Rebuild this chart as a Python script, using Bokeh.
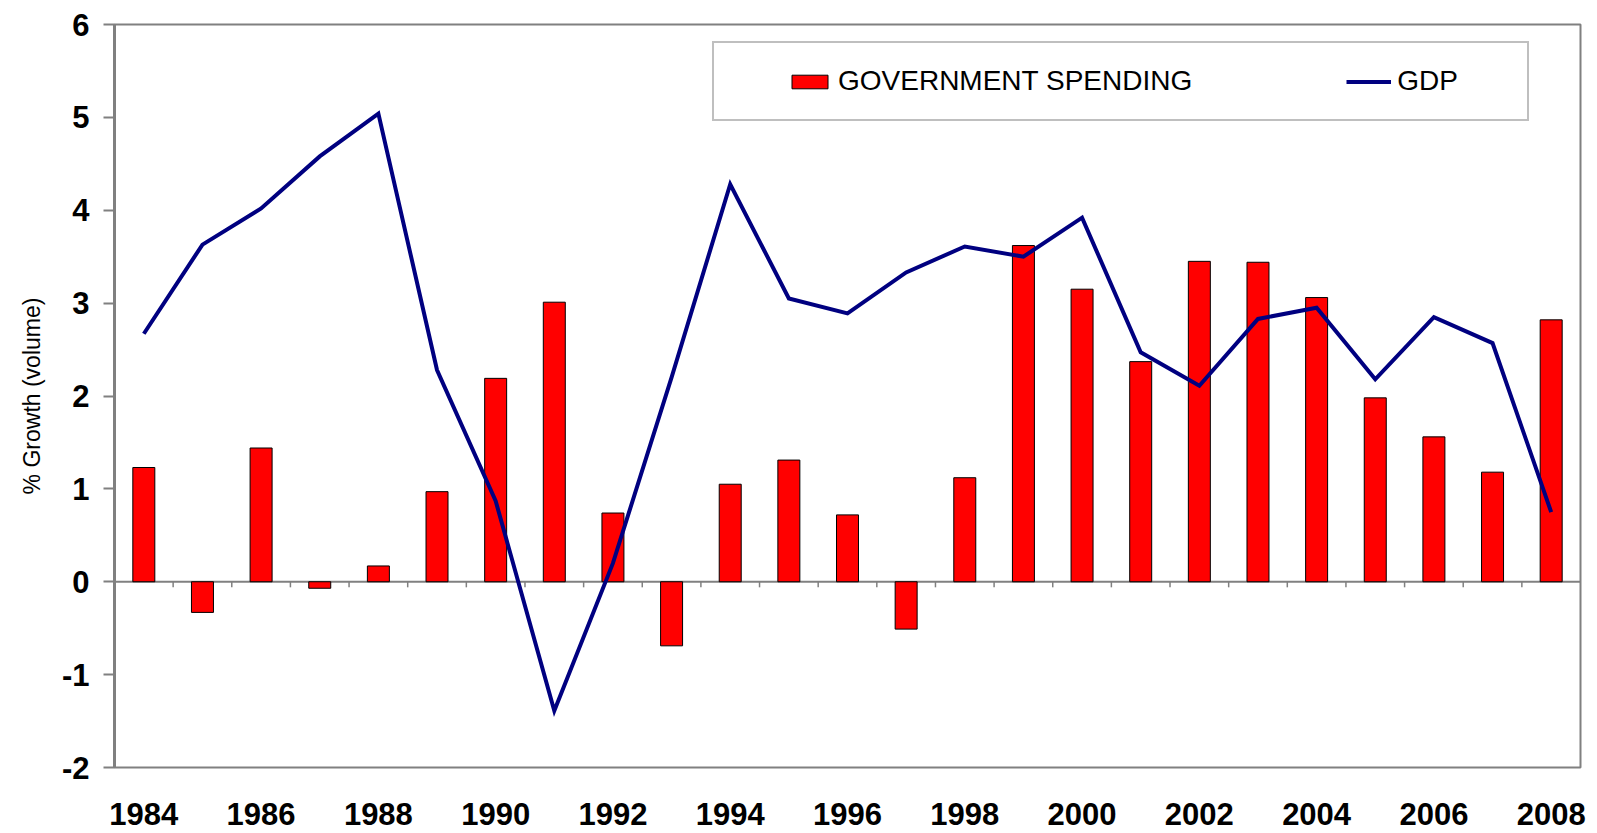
from bokeh.plotting import figure
from bokeh.models import (ColumnDataSource, FixedTicker, Legend, LegendItem,
                          Span, Range1d)
from bokeh.embed import file_html
from bokeh.resources import INLINE

# ---- data -------------------------------------------------------------
years = list(range(1984, 2009))
gov_spending = [1.23, -0.33, 1.44, -0.07, 0.17, 0.97, 2.19, 3.01, 0.74, -0.69,
                1.05, 1.31, 0.72, -0.51, 1.12, 3.62, 3.15, 2.37, 3.45, 3.44,
                3.06, 1.98, 1.56, 1.18, 2.82]
gdp = [2.67, 3.63, 4.02, 4.58, 5.04, 2.28, 0.87, -1.39, 0.20, 2.20,
       4.28, 3.05, 2.89, 3.33, 3.61, 3.50, 3.92, 2.47, 2.11, 2.83,
       2.95, 2.18, 2.85, 2.57, 0.75]
y_ticks = [-2, -1, 0, 1, 2, 3, 4, 5, 6]
y_tick_labels = ["-2", "-1", "0", "1", "2", "3", "4", "5", "6"]
x_tick_years = years[::2]
y_label = "% Growth (volume)"
series_names = ["GOVERNMENT SPENDING", "GDP"]

src = ColumnDataSource(dict(year=years, gov=gov_spending, gdp=gdp))

# boundaries between categories (small ticks on the zero line)
bounds = [y + 0.5 for y in years[:-1]]
bsrc = ColumnDataSource(dict(x=bounds, y0=[0] * len(bounds),
                             y1=[-0.06] * len(bounds)))

FONT = "Liberation Sans"
GRAY = "#808080"

p = figure(width=1590, height=832, output_backend="svg", toolbar_location=None,
           x_range=Range1d(years[0] - 0.5, years[-1] + 0.5),
           y_range=Range1d(y_ticks[0], y_ticks[-1]),
           min_border_left=114, min_border_right=10,
           min_border_top=24, min_border_bottom=65)

p.background_fill_color = "white"
p.border_fill_color = "white"
p.outline_line_color = GRAY
p.outline_line_width = 2
p.xgrid.visible = False
p.ygrid.visible = False

zero = Span(location=0, dimension="width", line_color=GRAY, line_width=2,
            level="underlay")
p.add_layout(zero)

p.segment(x0="x", y0="y0", x1="x", y1="y1", source=bsrc,
          line_color=GRAY, line_width=1.5)

bars = p.vbar(x="year", top="gov", bottom=0, width=0.375, source=src,
              fill_color="#FF0000", line_color="black", line_width=1)
line = p.line(x="year", y="gdp", source=src, line_color="#000080",
              line_width=4, line_join="miter")

# y axis
ya = p.yaxis[0]
ya.ticker = FixedTicker(ticks=y_ticks)
ya.major_label_overrides = {t: s for t, s in zip(y_ticks, y_tick_labels)}
ya.axis_line_color = GRAY
ya.axis_line_width = 3
ya.major_tick_line_color = GRAY
ya.major_tick_line_width = 2
ya.major_tick_out = 11
ya.major_tick_in = 0
ya.minor_tick_line_color = None
ya.major_label_text_font = FONT
ya.major_label_text_font_style = "bold"
ya.major_label_text_font_size = "31px"
ya.major_label_text_color = "black"
ya.major_label_standoff = 14
ya.axis_label = y_label
ya.axis_label_text_font = FONT
ya.axis_label_text_font_style = "normal"
ya.axis_label_text_font_size = "23px"
ya.axis_label_text_color = "black"
ya.axis_label_standoff = 14

# x axis
xa = p.xaxis[0]
xa.ticker = FixedTicker(ticks=x_tick_years)
xa.axis_line_color = None
xa.major_tick_line_color = None
xa.minor_tick_line_color = None
xa.major_label_text_font = FONT
xa.major_label_text_font_style = "bold"
xa.major_label_text_font_size = "31px"
xa.major_label_text_color = "black"
xa.major_label_standoff = 29

legend = Legend(
    items=[LegendItem(label=series_names[0], renderers=[bars]),
           LegendItem(label=series_names[1], renderers=[line])],
    orientation="horizontal",
    location=(598, 646),
    border_line_color=GRAY, border_line_width=2,
    background_fill_color="white", background_fill_alpha=1,
    label_text_font=FONT, label_text_font_size="28px",
    label_text_color="black",
    glyph_width=45, glyph_height=17, label_standoff=6,
    spacing=154, padding=22, label_height=30, label_width=108,
    title=" ", title_location="left", title_standoff=50,
    title_text_font_size="1px",
)
p.add_layout(legend)

open("out.html", "w").write(file_html(p, INLINE))
